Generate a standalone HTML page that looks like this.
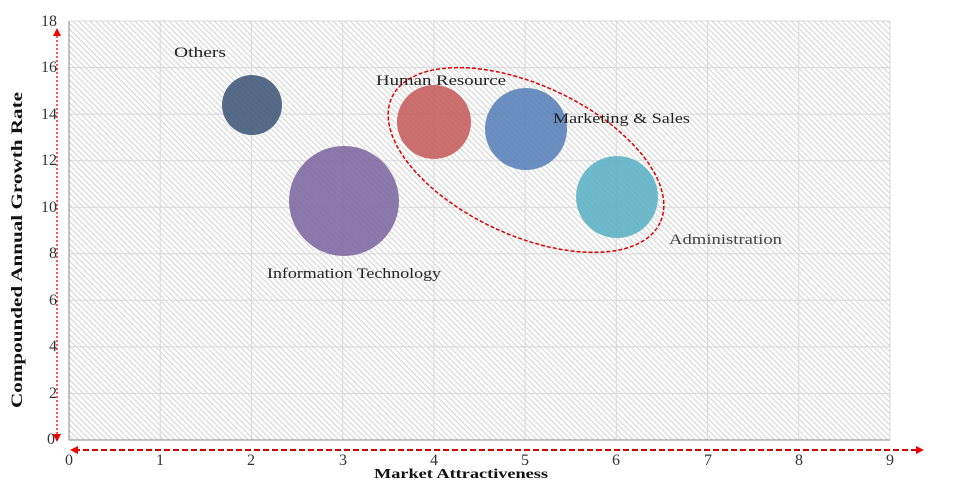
<!DOCTYPE html>
<html><head><meta charset="utf-8"><style>body{margin:0;background:#fff}svg{display:block}</style></head><body>
<svg width="954" height="493" xmlns="http://www.w3.org/2000/svg" font-family="Liberation Serif, serif">
<defs>
<pattern id="h" width="4" height="4" patternUnits="userSpaceOnUse" patternTransform="rotate(-45)">
<rect width="4" height="4" fill="#fff"/><rect width="1.2" height="4" fill="#d8d8d8"/>
</pattern>
<marker id="a" markerWidth="8" markerHeight="8" refX="4" refY="4" orient="auto-start-reverse" markerUnits="userSpaceOnUse"><path d="M0,0 L8,4 L0,8 z" fill="#e00"/></marker>
</defs>
<rect x="69" y="21" width="821" height="419" fill="url(#h)"/>
<g stroke="#d8d8d8" stroke-width="1">
<line x1="160.2" y1="21" x2="160.2" y2="440"/><line x1="251.4" y1="21" x2="251.4" y2="440"/><line x1="342.7" y1="21" x2="342.7" y2="440"/><line x1="433.9" y1="21" x2="433.9" y2="440"/><line x1="525.1" y1="21" x2="525.1" y2="440"/><line x1="616.3" y1="21" x2="616.3" y2="440"/><line x1="707.6" y1="21" x2="707.6" y2="440"/><line x1="798.8" y1="21" x2="798.8" y2="440"/><line x1="890" y1="21" x2="890" y2="440"/>
<line x1="69" y1="21" x2="890" y2="21"/><line x1="69" y1="67.6" x2="890" y2="67.6"/><line x1="69" y1="114.1" x2="890" y2="114.1"/><line x1="69" y1="160.7" x2="890" y2="160.7"/><line x1="69" y1="207.2" x2="890" y2="207.2"/><line x1="69" y1="253.8" x2="890" y2="253.8"/><line x1="69" y1="300.3" x2="890" y2="300.3"/><line x1="69" y1="346.9" x2="890" y2="346.9"/><line x1="69" y1="393.4" x2="890" y2="393.4"/>
</g>
<g stroke="#888" stroke-width="1"><line x1="69" y1="21" x2="69" y2="440"/><line x1="69" y1="440" x2="890" y2="440"/></g>
<g fill-opacity="0.88">
<circle cx="252" cy="105" r="30" fill="#3e5677"/>
<circle cx="344" cy="201" r="55" fill="#7d68a0"/>
<circle cx="434" cy="122" r="37" fill="#c45c5a"/>
<circle cx="526" cy="129" r="41" fill="#5880b8"/>
<circle cx="617" cy="197" r="41" fill="#5ab0c4"/>
</g>
<ellipse cx="526" cy="160" rx="148" ry="75" transform="rotate(25 526 160)" fill="none" stroke="#d00" stroke-width="1.5" stroke-dasharray="4,2"/>
<line x1="57" y1="32" x2="57" y2="438" stroke="#e00" stroke-width="1.3" stroke-dasharray="2,2" marker-start="url(#a)" marker-end="url(#a)"/>
<line x1="74" y1="450" x2="920" y2="450" stroke="#c00" stroke-width="2" stroke-dasharray="6,3" marker-start="url(#a)" marker-end="url(#a)"/>
<g font-size="15" fill="#222">
<text x="174" y="57" textLength="52" lengthAdjust="spacingAndGlyphs">Others</text>
<text x="376" y="85" textLength="130" lengthAdjust="spacingAndGlyphs">Human Resource</text>
<text x="553" y="123" textLength="137" lengthAdjust="spacingAndGlyphs">Marketing &amp; Sales</text>
<text x="669" y="244" fill="#444" textLength="113" lengthAdjust="spacingAndGlyphs">Administration</text>
<text x="267" y="278" textLength="174" lengthAdjust="spacingAndGlyphs">Information Technology</text>
</g>
<g font-size="16" fill="#333" text-anchor="end">
<text x="57" y="26">18</text><text x="57" y="72">16</text><text x="57" y="119">14</text><text x="57" y="165">12</text><text x="57" y="212">10</text><text x="57" y="258">8</text><text x="57" y="305">6</text><text x="57" y="351">4</text><text x="57" y="398">2</text><text x="55" y="444">0</text>
</g>
<g font-size="16" fill="#333" text-anchor="middle">
<text x="69" y="465">0</text><text x="160" y="465">1</text><text x="251" y="465">2</text><text x="343" y="465">3</text><text x="434" y="465">4</text><text x="525" y="465">5</text><text x="616" y="465">6</text><text x="708" y="465">7</text><text x="799" y="465">8</text><text x="890" y="465">9</text>
</g>
<text x="374" y="478" font-size="14" font-weight="bold" fill="#111" textLength="174" lengthAdjust="spacingAndGlyphs">Market Attractiveness</text>
<text transform="translate(22 408) rotate(-90)" font-size="16" font-weight="bold" fill="#111" textLength="316" lengthAdjust="spacingAndGlyphs">Compounded  Annual  Growth  Rate</text>
</svg>
</body></html>
